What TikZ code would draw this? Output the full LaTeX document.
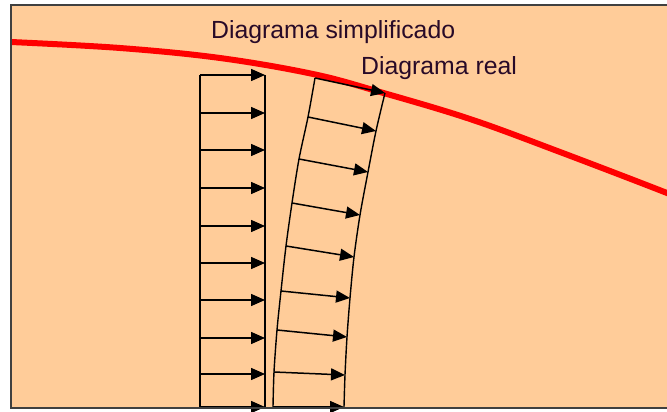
\documentclass[tikz,border=0pt]{standalone}
\usepackage{fontspec}
\setmainfont{Liberation Sans}
\usetikzlibrary{arrows.meta}
\definecolor{peach}{RGB}{255,204,153}
\definecolor{frame}{RGB}{64,64,64}
\definecolor{txt}{RGB}{40,10,40}
\tikzset{
  arr/.style={line width=1.5pt, -{Triangle[length=14pt,width=12pt]}},
  post/.style={line width=1.9pt},
  realline/.style={line width=1.4pt},
  lbl/.style={font=\fontsize{24.8pt}{26pt}\selectfont, text=txt, inner sep=0pt, anchor=base west},
}
\begin{document}
\begin{tikzpicture}[x=1pt,y=-1pt]
\useasboundingbox (0,0) rectangle (667,412);
\fill[white] (0,0) rectangle (667,412);
\begin{scope}
\clip (0,0) rectangle (667,412);
\fill[peach] (11,5) rectangle (680,408);
% red curve
\draw[red, line width=6pt] plot[smooth, tension=0.6] coordinates {(11,42) (120,48) (220,58) (313,74) (380,92) (470,119) (560,152) (667,193) (700,207)};
% simplified diagram
\foreach \i/\y in {1/75,2/113,3/150,4/188,5/226,6/263,7/300,8/338,9/374,10/407}{
  \coordinate (A\i) at (200,\y);
  \coordinate (B\i) at (265,\y);
}
\draw[post] (A1) -- (A10);
\draw[post] (B1) -- (B10);
\foreach \i in {1,...,10}{\draw[arr] (A\i) -- (B\i);}
% real diagram
\coordinate (L1) at (315,78);  \coordinate (R1) at (385,93);
\coordinate (L2) at (308,117); \coordinate (R2) at (376,131);
\coordinate (L3) at (299,159); \coordinate (R3) at (368,172);
\coordinate (L4) at (292,203); \coordinate (R4) at (360,215);
\coordinate (L5) at (286,246); \coordinate (R5) at (354,257);
\coordinate (L6) at (281,291); \coordinate (R6) at (350,298);
\coordinate (L7) at (277,330); \coordinate (R7) at (347,337);
\coordinate (L8) at (274,372); \coordinate (R8) at (345,375);
\coordinate (L9) at (273,407); \coordinate (R9) at (344,407);
\draw[realline] plot[smooth] coordinates {(L1) (L2) (L3) (L4) (L5) (L6) (L7) (L8) (L9)};
\draw[realline] plot[smooth] coordinates {(R1) (R2) (R3) (R4) (R5) (R6) (R7) (R8) (R9)};
\foreach \i in {1,...,9}{\draw[arr] (L\i) -- (R\i);}
% labels
\node[lbl] (simp) at (211,39) {Diagrama simplificado};
\node[lbl] (real) at (361,75) {Diagrama real};
% frame
\draw[frame, line width=2pt] (690,5) -- (11,5) -- (11,408) -- (690,408);
\end{scope}
\end{tikzpicture}
\end{document}
